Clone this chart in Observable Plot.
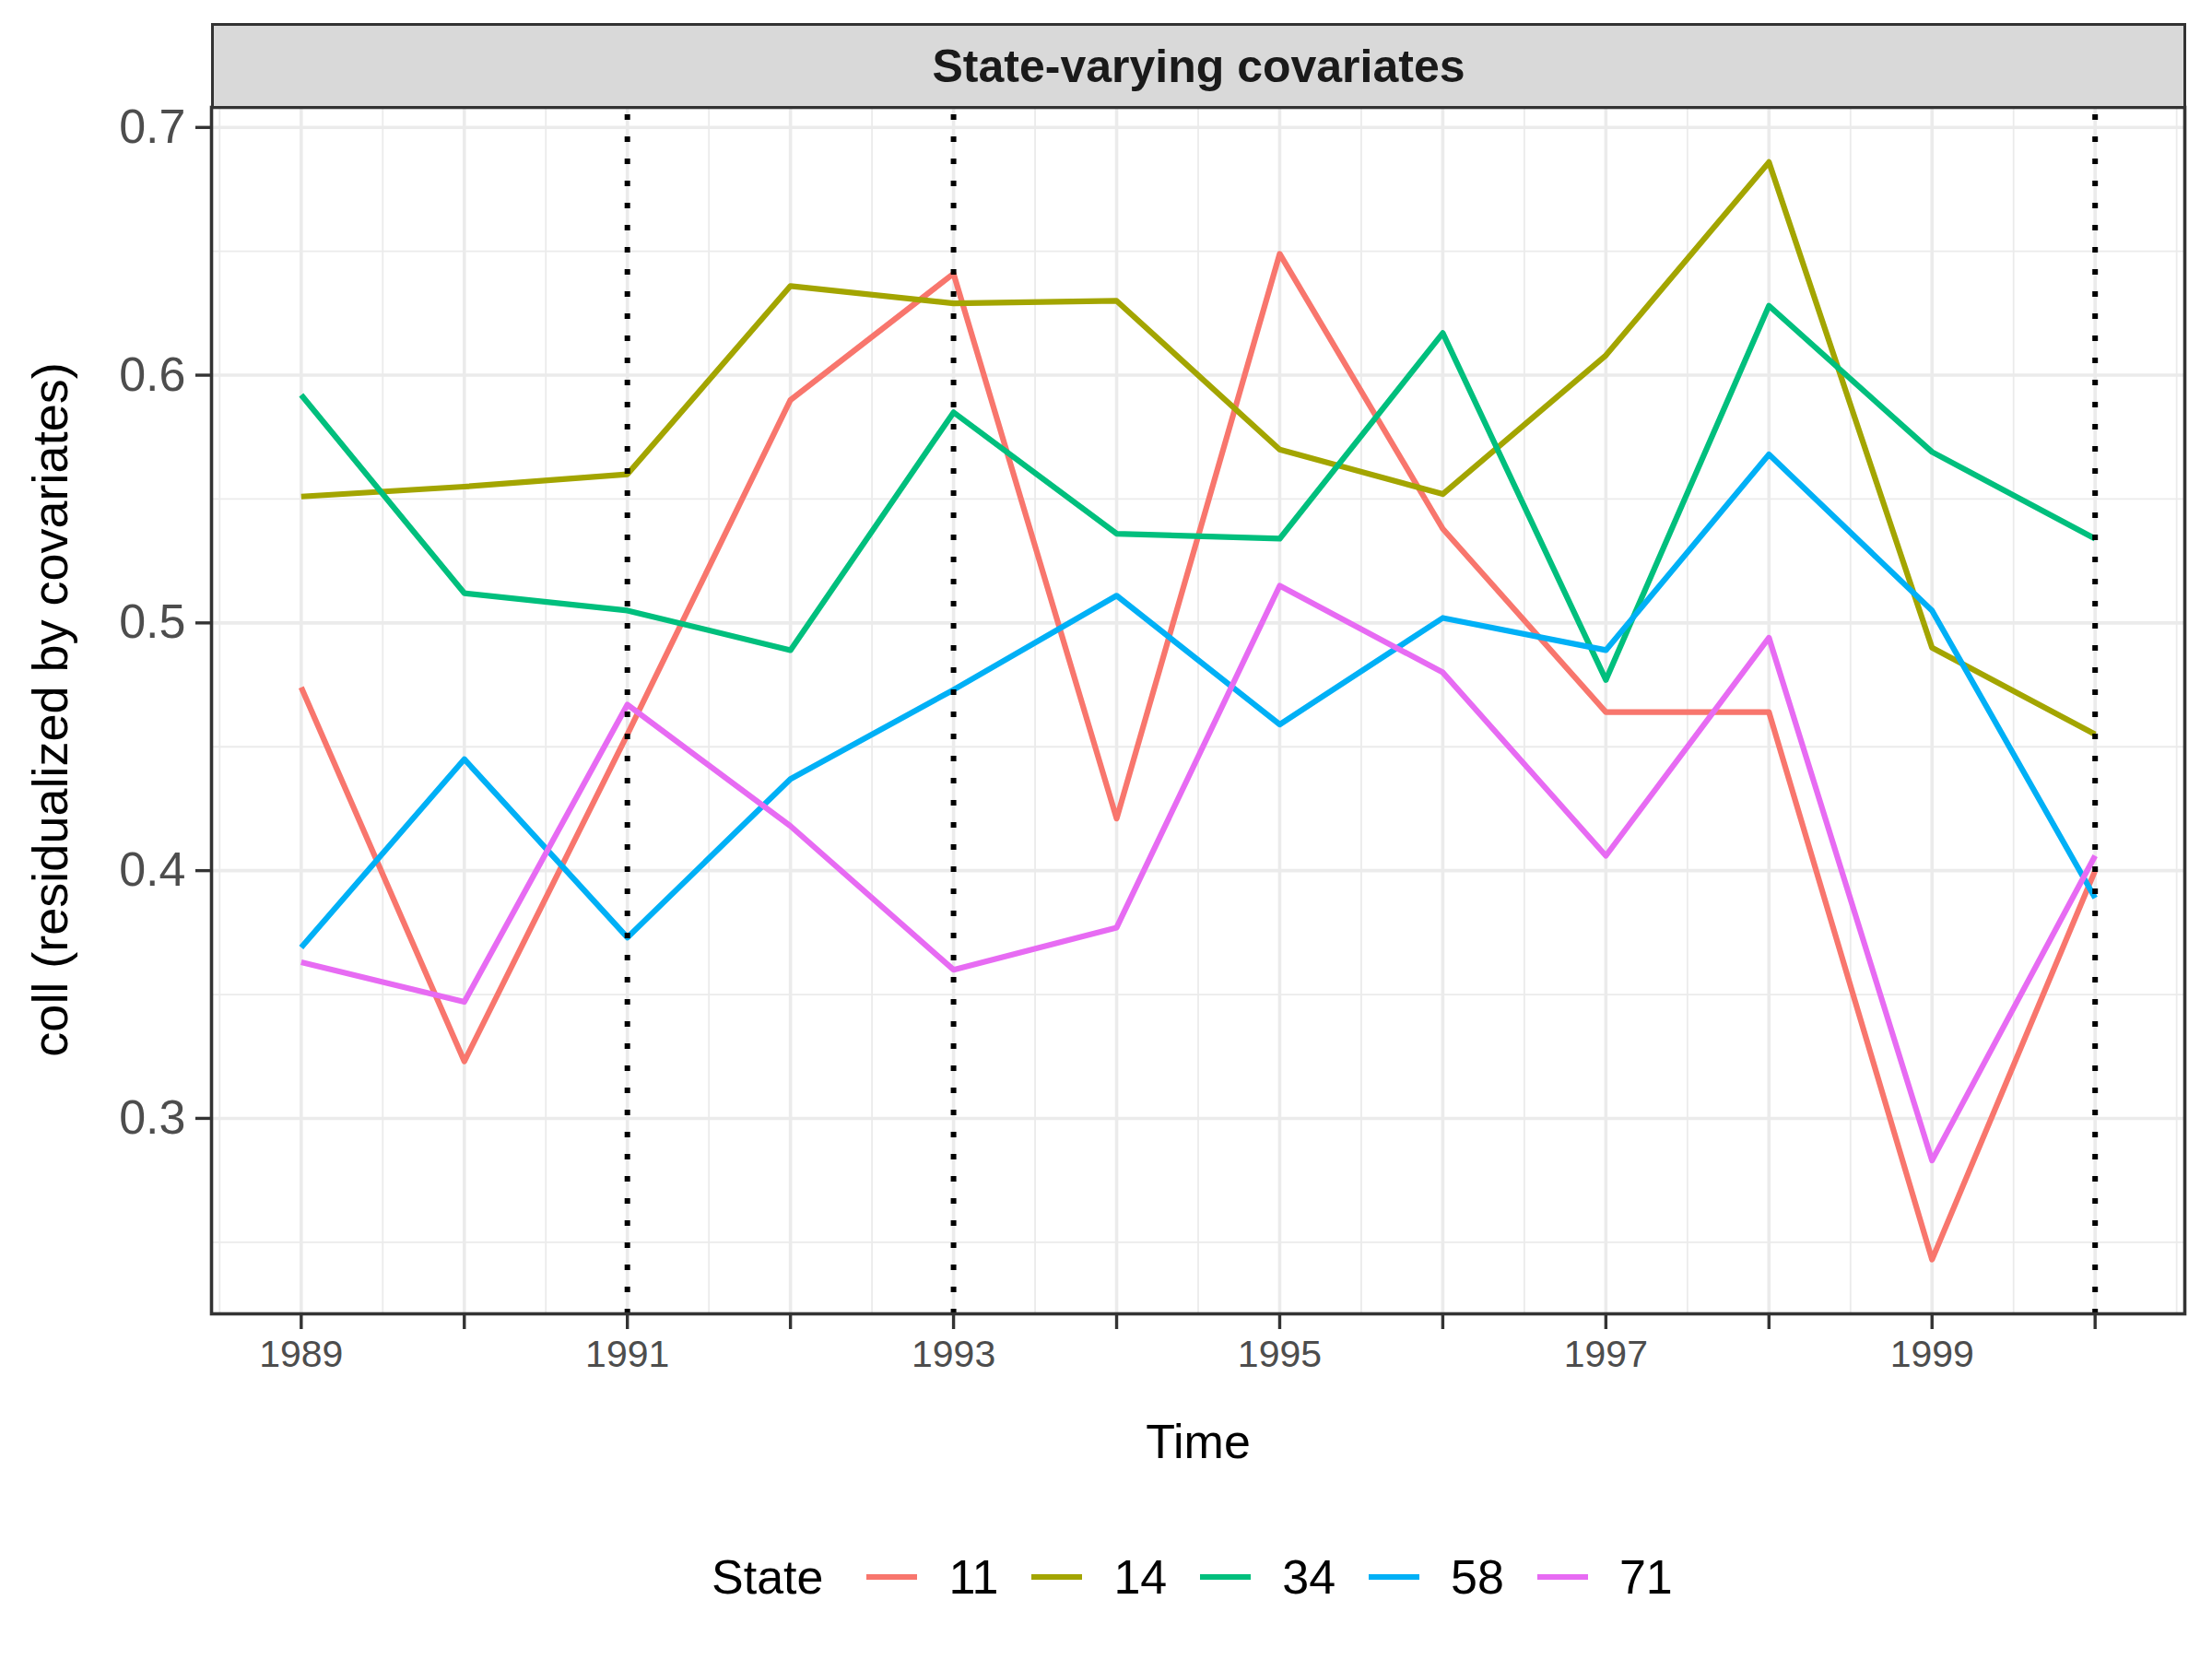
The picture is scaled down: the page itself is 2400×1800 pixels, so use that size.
<!DOCTYPE html>
<html>
<head>
<meta charset="utf-8">
<script src="https://cdn.jsdelivr.net/npm/d3@7"></script>
<script src="https://cdn.jsdelivr.net/npm/@observablehq/plot@0.6"></script>
<style>
  html, body { margin: 0; padding: 0; background: #ffffff; }
  #wrap { position: relative; width: 2400px; height: 1800px; font-family: "Liberation Sans", Arial, sans-serif; background: #fff; overflow: hidden; }
  #chart { position: absolute; left: 0; top: 0; }
  .strip { position: absolute; left: 229px; top: 25px; width: 2143px; height: 93px; box-sizing: border-box;
           border: 3.4px solid #333333; background: #D9D9D9; display: flex; align-items: center; justify-content: center;
           font-weight: bold; font-size: 50px; color: #1A1A1A; }
  .ytitle { position: absolute; left: 54px; top: 770px; width: 1000px; height: 80px; line-height: 80px; margin-left: -500px; margin-top: -40px;
            text-align: center; transform: rotate(-90deg); font-size: 54px; color: #000; white-space: nowrap; }
  .xtitle { position: absolute; left: 800px; width: 1000px; top: 1524px; height: 80px; line-height: 80px; text-align: center; font-size: 52px; color: #000; }
  .legend { position: absolute; left: 772px; top: 1671px; height: 80px; display: flex; align-items: center; font-size: 52px; color: #000; white-space: nowrap; }
  .legend .key { width: 55px; height: 6px; }
  .legend .lab { margin-left: 34px; }
</style>
</head>
<body>
<div id="wrap">
  <div id="chart"></div>
  <div class="strip">State-varying covariates</div>
  <div class="ytitle">coll (residualized by covariates)</div>
  <div class="xtitle">Time</div>
  <div class="legend" id="legend"></div>
</div>
<script>
// ---- data ----
const years = [1989, 1990, 1991, 1992, 1993, 1994, 1995, 1996, 1997, 1998, 1999, 2000];
const states = ["11", "14", "34", "58", "71"];
const colors = ["#F8766D", "#A3A500", "#00BF7D", "#00B0F6", "#E76BF3"];
const state11 = [0.474, 0.323, 0.455, 0.590, 0.641, 0.421, 0.649, 0.538, 0.464, 0.464, 0.243, 0.400];
const state14 = [0.551, 0.555, 0.560, 0.636, 0.629, 0.630, 0.570, 0.552, 0.608, 0.686, 0.490, 0.455];
const state34 = [0.592, 0.512, 0.505, 0.489, 0.585, 0.536, 0.534, 0.617, 0.477, 0.628, 0.569, 0.534];
const state58 = [0.369, 0.445, 0.373, 0.437, 0.473, 0.511, 0.459, 0.502, 0.489, 0.568, 0.505, 0.389];
const state71 = [0.363, 0.347, 0.467, 0.418, 0.360, 0.377, 0.515, 0.480, 0.406, 0.494, 0.283, 0.406];
const treatmentYears = [1991, 1993, 2000];
const yMajor = [0.3, 0.4, 0.5, 0.6, 0.7];
const yMinor = [0.25, 0.35, 0.45, 0.55, 0.65];
const xMinor = [1988.5, 1989.5, 1990.5, 1991.5, 1992.5, 1993.5, 1994.5, 1995.5, 1996.5, 1997.5, 1998.5, 1999.5, 2000.5];
const xLabelYears = [1989, 1991, 1993, 1995, 1997, 1999];

const series = [state11, state14, state34, state58, state71];
const rows = [];
states.forEach((s, i) => years.forEach((yr, j) => rows.push({state: s, year: yr, value: series[i][j]})));

const grid = "#EBEBEB";
const chart = Plot.plot({
  width: 2400,
  height: 1800,
  marginLeft: 229,
  marginRight: 30,
  marginTop: 116,
  marginBottom: 375,
  style: {fontFamily: "Liberation Sans, Arial, sans-serif", background: "transparent"},
  x: {domain: [1988.45, 2000.55]},
  y: {domain: [0.2211, 0.7081]},
  color: {domain: states, range: colors},
  marks: [
    Plot.gridX(xMinor, {stroke: grid, strokeOpacity: 1, strokeWidth: 1.8}),
    Plot.gridY(yMinor, {stroke: grid, strokeOpacity: 1, strokeWidth: 1.8}),
    Plot.gridX(years, {stroke: grid, strokeOpacity: 1, strokeWidth: 3.6}),
    Plot.gridY(yMajor, {stroke: grid, strokeOpacity: 1, strokeWidth: 3.6}),
    Plot.line(rows, {x: "year", y: "value", z: "state", stroke: "state", strokeWidth: 6.2, strokeLinecap: "butt", strokeLinejoin: "round"}),
    Plot.ruleX(treatmentYears, {stroke: "#000", strokeWidth: 6, strokeDasharray: "6,18", strokeDashoffset: 16}),
    Plot.frame({stroke: "#333333", strokeWidth: 3.6}),
    Plot.axisX(years, {
      anchor: "bottom", label: null, tickSize: 17, tickPadding: 11, fontSize: 41,
      tickFormat: d => xLabelYears.includes(d) ? String(d) : "",
      stroke: "#333333", strokeWidth: 3.4, fill: "#4D4D4D"
    }),
    Plot.axisY(yMajor, {
      anchor: "left", label: null, tickSize: 17, tickPadding: 11, fontSize: 52,
      tickFormat: d3.format(".1f"),
      stroke: "#333333", strokeWidth: 3.4, fill: "#4D4D4D"
    })
  ]
});
document.getElementById("chart").appendChild(chart);

// legend
const legend = document.getElementById("legend");
const title = document.createElement("span");
title.textContent = "State";
legend.appendChild(title);
states.forEach((s, i) => {
  const key = document.createElement("span");
  key.className = "key";
  key.style.background = colors[i];
  key.style.marginLeft = (i === 0 ? 47 : 36) + "px";
  legend.appendChild(key);
  const lab = document.createElement("span");
  lab.className = "lab";
  lab.textContent = s;
  legend.appendChild(lab);
});
</script>
</body>
</html>
